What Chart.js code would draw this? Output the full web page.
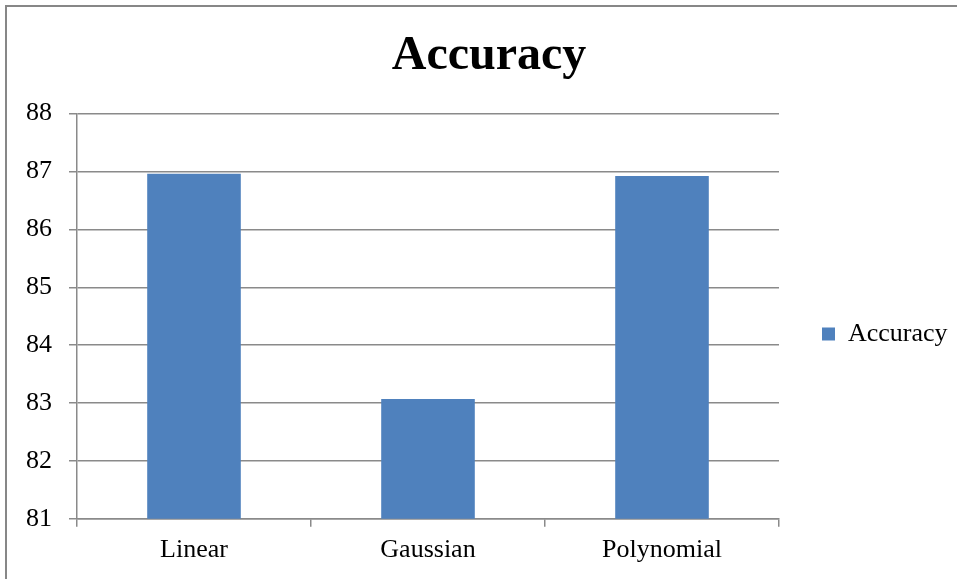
<!DOCTYPE html>
<html lang="en">
<head>
    <meta charset="UTF-8">
    <title>Accuracy</title>
    <script src="https://cdn.jsdelivr.net/npm/chart.js@4.4.1/dist/chart.umd.min.js"></script>
    <style>
        html, body { margin: 0; padding: 0; background: #fff; }
        #wrap { width: 957px; height: 579px; }
    </style>
</head>
<body>
    <div id="wrap"><canvas id="myChart" width="957" height="579"></canvas></div>

    <script>
    // data
    var kernels = ['Linear', 'Gaussian', 'Polynomial'];
    var accuracy = [86.96, 83.07, 86.92];
    var yTicks = [81, 82, 83, 84, 85, 86, 87, 88];

    var serif = "'Liberation Serif', 'Times New Roman', serif";
    var gray = '#8a8a8a';

    // outer frame of the chart object (top and left edges visible)
    var framePlugin = {
        id: 'frame',
        beforeDraw: function(chart){
            var ctx = chart.ctx;
            ctx.save();
            ctx.fillStyle = '#fff';
            ctx.fillRect(0, 0, chart.width, chart.height);
            ctx.strokeStyle = '#878787';
            ctx.lineWidth = 2;
            ctx.strokeRect(6, 6, chart.width + 20, chart.height + 20);
            ctx.restore();
        }
    };

    function createChart(){
        var ctx = document.getElementById('myChart').getContext('2d');
        new Chart(ctx, {
            type: 'bar',
            data: {
                labels: kernels,
                datasets: [{
                    label: 'Accuracy',
                    data: accuracy,
                    backgroundColor: '#4F81BD',
                    borderWidth: 0,
                    barPercentage: 0.4,
                    categoryPercentage: 1.0
                }]
            },
            options: {
                responsive: false,
                animation: false,
                layout: { padding: { left: 21, right: 0, top: 0, bottom: 5 } },
                plugins: {
                    title: {
                        display: true,
                        text: 'Accuracy',
                        color: '#000',
                        font: { family: serif, size: 48, weight: 'bold' },
                        padding: { top: 28, bottom: 28 }
                    },
                    legend: {
                        position: 'right',
                        maxWidth: 178,
                        // empty title only pushes the single entry down
                        title: { display: true, text: '', font: { size: 10, lineHeight: 1 }, padding: { top: 84, bottom: 0 } },
                        labels: {
                            color: '#000',
                            boxWidth: 13,
                            boxHeight: 13,
                            padding: 43,
                            font: { family: serif, size: 26 }
                        }
                    },
                    tooltip: { enabled: false }
                },
                scales: {
                    x: {
                        grid: {
                            drawOnChartArea: false,
                            drawTicks: true,
                            tickLength: 8,
                            color: gray,
                            lineWidth: 1.5
                        },
                        border: { display: true, color: gray, width: 1.5 },
                        ticks: {
                            color: '#000',
                            padding: 8,
                            font: { family: serif, size: 26 }
                        }
                    },
                    y: {
                        min: yTicks[0],
                        max: yTicks[yTicks.length - 1],
                        afterBuildTicks: function(axis){
                            axis.ticks = yTicks.map(function(v){ return { value: v }; });
                        },
                        afterFit: function(axis){ axis.width = 56; },
                        grid: {
                            color: gray,
                            lineWidth: 1.5,
                            drawTicks: true,
                            tickLength: 8
                        },
                        border: { display: true, color: gray, width: 1.5 },
                        ticks: {
                            color: '#000',
                            padding: 17,
                            font: { family: serif, size: 26 }
                        }
                    }
                }
            },
            plugins: [framePlugin]
        });
    }
    createChart();
    </script>
</body>
</html>
